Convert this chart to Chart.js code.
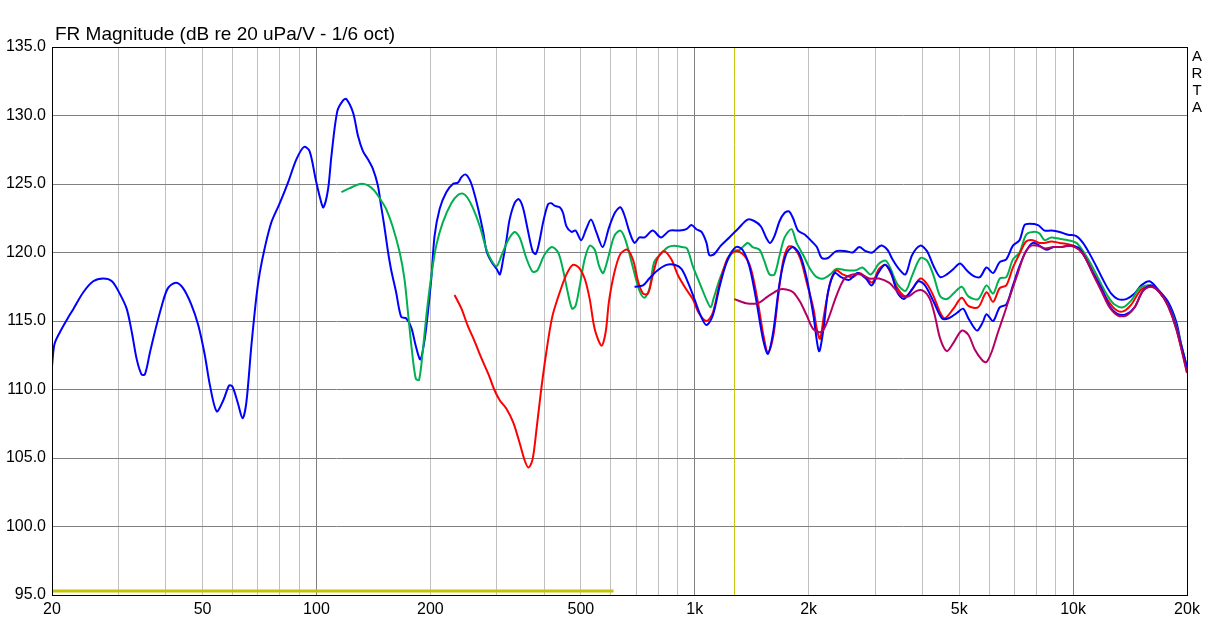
<!DOCTYPE html>
<html>
<head>
<meta charset="utf-8">
<script src="https://cdn.jsdelivr.net/npm/chart.js@4.4.1/dist/chart.umd.min.js"></script>
<style>
  html, body { margin: 0; padding: 0; background: #fff; }
  #wrap { width: 1210px; height: 626px; }
</style>
</head>
<body>
<div id="wrap"><canvas id="frChart" width="1210" height="626"></canvas></div>
<script>
// axis ticks
const gridFreqs = [20, 30, 40, 50, 60, 70, 80, 90, 100, 200, 300, 400, 500, 600, 700, 800, 900,
  1000, 2000, 3000, 4000, 5000, 6000, 7000, 8000, 9000, 10000, 20000];
const xLabelFreqs = [20, 50, 100, 200, 500, 1000, 2000, 5000, 10000, 20000];
const xLabelText = ['20', '50', '100', '200', '500', '1k', '2k', '5k', '10k', '20k'];
const majorFreqs = [100, 1000, 10000];

// blue, full range
const blueFreq = [20, 20.3, 21.0, 21.9, 22.8, 24.2, 25.7, 27.3, 28.8, 30.2, 31.5, 32.5, 33.5, 34.5, 35.2,
  36.3, 37.4, 39.0, 40.5, 42.5, 44.4, 46.7, 48.7, 50.7, 52.3, 54.5, 56.7, 58.8, 60.0, 62.0, 63.8, 65.3,
  67.3, 69.4, 70.8, 73.1, 76.0, 80, 84.1, 88.5, 92.7, 95.9, 99.6, 102.4, 104.3, 107.3, 109.5, 113.5,
  117.6, 120, 125, 128.8, 132.7, 136.8, 141, 145.3, 148.2, 151.2, 154.3, 157.4, 162.4, 167.5, 172.6,
  178.2, 183, 188.2, 193.3, 197, 201.2, 205.2, 211.7, 220.4, 229.4, 236.6, 241.7, 247.6, 254.2, 259.6,
  267.6, 275.9, 281.6, 290.4, 299.5, 305.4, 311.5, 317.8, 324, 334, 342.4, 351.2, 361.6, 372.6, 380,
  387.7, 397.3, 409, 417.5, 427, 439.7, 448.4, 458, 472, 484, 501, 516, 532, 549, 571, 593, 615, 636,
  652, 672, 693, 714, 737, 774, 814, 858, 912, 950, 980, 1010, 1042, 1074, 1093, 1127, 1172, 1234,
  1298, 1379, 1436, 1496, 1543, 1582, 1624, 1676, 1728, 1774, 1819, 1875, 1956, 2039, 2102, 2166,
  2250, 2365, 2512, 2615, 2720, 2832, 2946, 3100, 3230, 3330, 3463, 3605, 3752, 3948, 4110, 4279,
  4454, 4637, 4827, 5025, 5231, 5446, 5670, 5903, 6145, 6397, 6659, 6933, 7217, 7441, 7673, 8076,
  8409, 8755, 9212, 9694, 10200, 10620, 11060, 11510, 12110, 12610, 13130, 13820, 14540, 15140,
  15930, 16770, 17820, 18750, 19330, 20000];
const blueDb = [111.7, 113.3, 114.2, 115.1, 115.9, 117.1, 117.9, 118.1, 117.9, 117.0, 115.9, 114.2, 112.2,
  111.1, 111.1, 112.7, 114.2, 116.1, 117.4, 117.8, 117.4, 116.2, 114.7, 112.5, 110.3, 108.4, 109.2,
  110.3, 110.2, 109.0, 107.9, 109.1, 113.2, 116.8, 118.5, 120.4, 122.2, 123.6, 125.1, 126.8, 127.7,
  127.4, 125.3, 123.9, 123.3, 124.6, 127.0, 130.3, 131.1, 131.2, 130.2, 128.5, 127.4, 126.8, 126.1,
  124.9, 123.4, 121.9, 120.2, 118.8, 117.1, 115.3, 115.2, 114.5, 113.2, 112.2, 113.7, 115.6, 118.1,
  121.2, 123.2, 124.4, 125.0, 125.1, 125.5, 125.7, 125.3, 124.6, 123.2, 121.5, 120.1, 119.3, 118.8,
  118.4, 119.5, 120.9, 122.4, 123.6, 123.9, 123.3, 121.7, 120.1, 119.9, 120.7, 122.2, 123.5, 123.6,
  123.4, 123.3, 122.9, 121.9, 121.5, 121.6, 120.9, 121.7, 122.4, 121.5, 120.4, 121.8, 122.9, 123.3,
  122.7, 121.5, 120.7, 121.1, 121.1, 121.6, 121.1, 121.6, 121.6, 121.7, 122.0, 121.7, 121.5, 120.7,
  119.8, 119.9, 120.5, 121.1, 121.7, 122.4, 122.3, 121.9, 121.1, 120.7, 121.2, 122.3, 122.9, 123.0,
  122.5, 121.6, 121.3, 120.8, 120.4, 119.6, 119.6, 120.1, 120.1, 120.0, 120.4, 120.1, 120.0, 120.5,
  120.2, 119.5, 118.8, 118.4, 119.8, 120.5, 120.1, 119.0, 118.2, 118.4, 118.8, 119.2, 118.7, 118.3,
  118.2, 118.9, 118.5, 119.3, 119.5, 120.5, 120.9, 122.0, 122.1, 122.0, 121.6, 121.6, 121.5, 121.3,
  121.2, 120.7, 119.9, 119.0, 117.8, 117.0, 116.6, 116.6, 117.0, 117.6, 117.9, 117.3, 116.4, 114.9,
  113.2, 111.6];

// green
const greenFreq = [116.4, 122.5, 130.5, 136.8, 142.4, 148.2, 152.7, 159, 166, 170.8, 174.6, 178.2, 183,
  186.7, 190.5, 195.6, 201.2, 207.3, 215.8, 227.2, 236.6, 244, 250.8, 259.6, 270.4, 281.6, 290.4,
  299.5, 308.6, 321, 334, 344.4, 358.6, 372.6, 383.7, 400, 418.7, 435.4, 448, 461.5, 474, 484, 496,
  511.6, 527.6, 544, 558.7, 572.6, 590, 612.6, 636, 656, 688, 712, 735, 758, 781, 814, 850, 884, 922,
  954, 988, 1036, 1072, 1102, 1120, 1165, 1215, 1265, 1315, 1379, 1422, 1483, 1526, 1576, 1624, 1676,
  1728, 1802, 1858, 1936, 2018, 2102, 2188, 2280, 2365, 2512, 2665, 2775, 2918, 3070, 3195, 3295,
  3430, 3605, 3752, 3948, 4110, 4279, 4454, 4637, 4827, 5076, 5285, 5612, 5903, 6145, 6397, 6659,
  6933, 7217, 7513, 7823, 8143, 8409, 8755, 9212, 9694, 10200, 10620, 11170, 11760, 12360, 12870,
  13550, 14250, 14990, 15930, 16770, 17820, 18750, 20000];
const greenDb = [124.4, 124.7, 125.0, 124.9, 124.5, 123.8, 123.2, 121.9, 120.0, 118.1, 115.6, 113.2,
  110.8, 110.7, 112.5, 115.6, 118.3, 120.5, 122.2, 123.6, 124.2, 124.3, 124.0, 123.2, 121.9, 120.2,
  119.4, 119.0, 119.8, 120.9, 121.5, 121.1, 119.6, 118.6, 118.7, 119.8, 120.4, 120.0, 118.8, 117.1,
  115.9, 116.1, 117.5, 119.5, 120.5, 120.2, 119.0, 118.5, 119.6, 121.2, 121.6, 120.9, 118.8, 117.3,
  116.7, 117.3, 119.3, 119.9, 120.4, 120.5, 120.4, 120.3, 119.0, 117.6, 116.6, 116.0, 116.6, 118.1,
  119.3, 120.1, 120.2, 120.7, 120.4, 120.2, 119.4, 118.4, 118.4, 119.8, 121.1, 121.7, 120.7, 119.8,
  118.8, 118.2, 118.1, 118.4, 118.8, 118.7, 118.7, 118.9, 118.4, 119.2, 119.4, 118.8, 117.7, 117.2,
  118.3, 119.6, 119.4, 118.3, 116.8, 116.6, 117.0, 117.5, 116.8, 116.6, 117.6, 117.0, 118.1, 118.2,
  119.5, 120.0, 121.3, 121.5, 121.4, 120.9, 121.1, 121.0, 120.9, 120.7, 120.1, 119.1, 117.9, 116.8,
  116.2, 116.0, 116.5, 117.4, 117.6, 117.2, 116.2, 114.6, 111.6];

// red
const redFreq = [231.8, 241.7, 250.8, 262, 273.8, 286, 295, 305.4, 317.8, 331.2, 344.4, 355.4, 363.8,
  372.6, 381.7, 391.5, 404, 420, 439.7, 458, 476, 494, 511.6, 527.6, 544, 567, 581.5, 593, 612.6, 636,
  664, 688, 708, 730, 752, 774, 798, 830, 867, 904, 950, 988, 1024, 1074, 1116, 1165, 1222, 1285,
  1350, 1408, 1468, 1520, 1561, 1612, 1658, 1710, 1764, 1819, 1898, 1977, 2059, 2102, 2144, 2195,
  2280, 2365, 2460, 2615, 2720, 2832, 2946, 3070, 3195, 3295, 3430, 3605, 3752, 3948, 4110, 4279,
  4454, 4583, 4827, 5076, 5285, 5612, 5903, 6145, 6397, 6659, 6933, 7217, 7513, 7823, 8143, 8409,
  8755, 9212, 9694, 10200, 10620, 11170, 11760, 12360, 13000, 13550, 14250, 15140, 16100, 16940,
  17820, 18750, 20000];
const redDb = [116.9, 115.9, 114.7, 113.5, 112.2, 111.0, 110.0, 109.2, 108.6, 107.6, 106.1, 104.8, 104.3,
  104.9, 107.1, 109.7, 112.5, 115.3, 117.1, 118.4, 119.1, 118.9, 118.1, 116.6, 114.4, 113.2, 114.2,
  116.4, 118.5, 119.9, 120.2, 119.4, 117.9, 117.0, 117.0, 118.3, 119.6, 120.1, 119.5, 118.3, 117.3,
  116.6, 115.6, 115.0, 115.6, 117.8, 119.6, 120.1, 119.8, 118.8, 116.4, 113.9, 112.7, 113.9, 116.6,
  119.3, 120.4, 120.4, 119.6, 117.8, 115.9, 114.4, 113.7, 115.4, 117.8, 118.7, 118.4, 118.2, 118.5,
  118.2, 117.8, 118.8, 119.1, 118.5, 117.4, 116.8, 117.3, 118.1, 117.7, 116.8, 115.6, 115.2, 115.9,
  116.7, 116.1, 116.0, 117.1, 116.4, 117.4, 117.6, 118.9, 119.9, 120.8, 120.9, 120.7, 120.7, 120.8,
  120.7, 120.6, 120.4, 119.9, 118.8, 117.6, 116.5, 115.8, 115.7, 116.2, 117.3, 117.5, 117.1, 116.1,
  114.4, 111.3];

// second blue, from ~700 Hz
const blue2Freq = [693, 730, 758, 798, 842, 884, 922, 960, 998, 1036, 1074, 1116, 1165, 1222, 1285, 1337,
  1394, 1452, 1514, 1561, 1612, 1676, 1745, 1819, 1898, 1977, 2059, 2130, 2188, 2250, 2341, 2437,
  2560, 2692, 2832, 2936, 3055, 3180, 3295, 3430, 3568, 3752, 3900, 4061, 4279, 4500, 4690, 4937,
  5118, 5285, 5446, 5579, 5768, 5903, 6145, 6397, 6659, 6933, 7217, 7513, 7823, 8143, 8500, 8870,
  9300, 9850, 10370, 10780, 11290, 11920, 12480, 13130, 13820, 14540, 15290, 16100, 16940, 17820,
  18750, 20000];
const blue2Db = [117.5, 117.6, 118.1, 118.7, 119.1, 119.1, 118.8, 117.8, 116.6, 115.4, 114.7, 115.4, 117.6,
  119.5, 120.4, 120.2, 119.0, 116.6, 113.7, 112.6, 114.2, 117.8, 119.9, 120.4, 119.8, 118.1, 115.4,
  112.8, 114.4, 117.1, 118.5, 118.2, 118.0, 118.5, 118.1, 117.6, 118.5, 119.1, 118.6, 117.1, 116.6,
  117.3, 117.9, 117.6, 116.4, 115.2, 115.2, 115.6, 115.9, 115.2, 114.6, 114.3, 114.9, 115.5, 115.0,
  116.0, 116.2, 117.6, 119.0, 120.1, 120.7, 120.5, 120.2, 120.4, 120.4, 120.5, 120.3, 119.6, 118.5,
  117.3, 116.1, 115.5, 115.5, 116.0, 117.2, 117.6, 117.1, 116.2, 114.5, 111.6];

// purple, from ~1.27 kHz
const purpleFreq = [1272, 1366, 1468, 1561, 1676, 1745, 1819, 1898, 1977, 2059, 2166, 2250, 2365, 2486,
  2615, 2748, 2890, 3070, 3260, 3395, 3533, 3677, 3862, 4019, 4183, 4310, 4454, 4637, 4827, 5076,
  5285, 5500, 5768, 5903, 6083, 6334, 6592, 6864, 7145, 7441, 7745, 8062, 8409, 8870, 9300, 9850,
  10370, 10780, 11290, 11920, 12480, 13130, 13820, 14540, 15290, 16100, 16940, 17820, 18750, 20000];
const purpleDb = [116.6, 116.3, 116.3, 116.8, 117.3, 117.3, 117.1, 116.4, 115.4, 114.4, 114.2, 115.1,
  116.8, 118.1, 118.4, 118.4, 118.1, 118.1, 117.8, 117.3, 116.8, 116.8, 117.2, 117.2, 116.6, 115.4,
  113.7, 112.8, 113.4, 114.3, 114.0, 112.9, 112.1, 112.0, 112.7, 114.2, 115.6, 117.1, 118.5, 119.9,
  120.5, 120.5, 120.3, 120.4, 120.4, 120.5, 120.2, 119.6, 118.4, 117.1, 116.0, 115.4, 115.4, 116.0,
  117.2, 117.5, 117.1, 116.1, 114.4, 111.2];

// yellow markers
const markerLevelFreq = [20, 610];
const markerLevelDb = [95.3, 95.3];
const markerFreq = [1274, 1274];
const markerDb = [95, 135];

const pts = (xs, ys) => xs.map((x, i) => ({ x: x, y: ys[i] }));

const line = (label, xs, ys, color, width) => ({
  label: label,
  data: pts(xs, ys),
  borderColor: color,
  borderWidth: width,
  pointRadius: 0,
  tension: 0.3,
  fill: false
});

const frameAndText = {
  id: 'frameAndText',
  afterDraw(chart) {
    const ctx = chart.ctx;
    const a = chart.chartArea;
    ctx.save();
    ctx.strokeStyle = '#000';
    ctx.lineWidth = 1;
    ctx.strokeRect(a.left + 0.5, a.top + 0.5, a.right - a.left, a.bottom - a.top);
    ctx.fillStyle = '#000';
    ctx.font = '19px "Liberation Sans", Arial, sans-serif';
    ctx.textAlign = 'left';
    ctx.textBaseline = 'alphabetic';
    ctx.fillText('FR Magnitude (dB re 20 uPa/V - 1/6 oct)', 55, 40);
    ctx.font = '15px "Liberation Sans", Arial, sans-serif';
    ctx.textAlign = 'center';
    ctx.textBaseline = 'middle';
    ['A', 'R', 'T', 'A'].forEach((ch, i) => ctx.fillText(ch, 1197, 57 + i * 17));
    ctx.restore();
  }
};

new Chart(document.getElementById('frChart'), {
  type: 'line',
  data: {
    datasets: [
      line('Purple', purpleFreq, purpleDb, '#b40064', 2),
      line('Blue 2', blue2Freq, blue2Db, '#0000ff', 2),
      line('Red', redFreq, redDb, '#ff0000', 2),
      line('Green', greenFreq, greenDb, '#00b050', 2),
      line('Blue', blueFreq, blueDb, '#0000ff', 2),
      line('Level', markerLevelFreq, markerLevelDb, '#c4c400', 3),
      line('Marker', markerFreq, markerDb, '#c4c400', 1)
    ]
  },
  options: {
    responsive: false,
    animation: false,
    devicePixelRatio: 1,
    layout: { padding: { top: 47, right: 23, left: 0, bottom: 0 } },
    plugins: { legend: { display: false }, tooltip: { enabled: false }, title: { display: false } },
    scales: {
      x: {
        type: 'logarithmic',
        min: 20,
        max: 20000,
        afterBuildTicks: (scale) => { scale.ticks = gridFreqs.map(v => ({ value: v })); },
        afterFit: (scale) => { scale.height = 31; },
        border: { color: '#000', width: 1 },
        grid: {
          drawTicks: false,
          color: (c) => majorFreqs.includes(c.tick && c.tick.value) ? '#808080' : '#c0c0c0'
        },
        ticks: {
          autoSkip: false,
          maxRotation: 0,
          padding: 5,
          color: '#000',
          font: { family: '"Liberation Sans", Arial, sans-serif', size: 16 },
          callback: (v) => {
            const i = xLabelFreqs.indexOf(v);
            return i >= 0 ? xLabelText[i] : '';
          }
        }
      },
      y: {
        min: 95,
        max: 135,
        afterFit: (scale) => { scale.width = 52; },
        border: { color: '#000', width: 1 },
        grid: { drawTicks: false, color: '#808080' },
        ticks: {
          stepSize: 5,
          padding: 6,
          color: '#000',
          font: { family: '"Liberation Sans", Arial, sans-serif', size: 16 },
          callback: (v) => v.toFixed(1)
        }
      }
    }
  },
  plugins: [frameAndText]
});
</script>
</body>
</html>
